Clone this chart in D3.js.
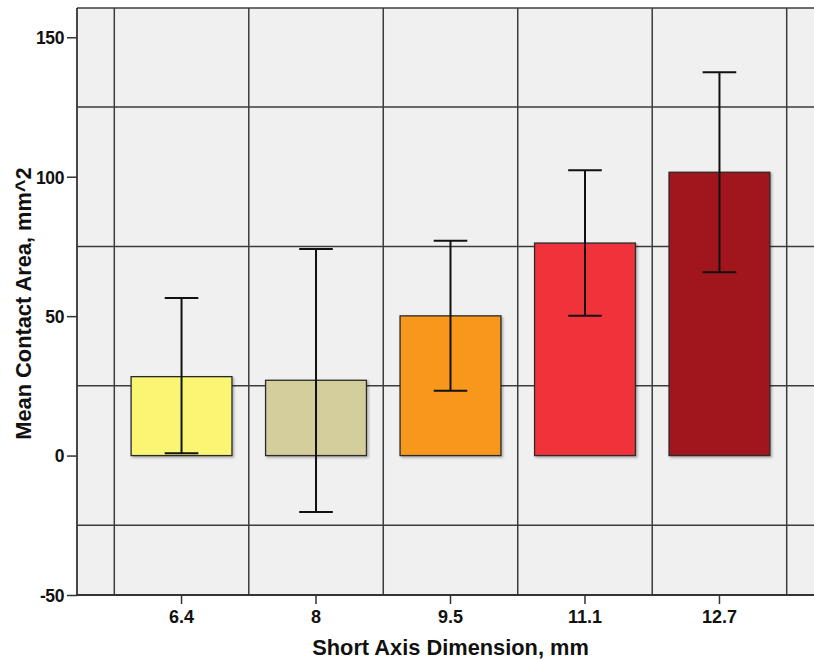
<!DOCTYPE html>
<html>
<head>
<meta charset="utf-8">
<script src="https://cdn.jsdelivr.net/npm/d3@7"></script>
<style>
  html, body { margin: 0; padding: 0; background: #ffffff; }
  svg { display: block; }
  text { font-family: "Liberation Sans", Arial, sans-serif; font-weight: bold; fill: #111; }
</style>
</head>
<body>
<svg id="chart" width="814" height="660"></svg>
<script>
// Short axis dimension groups (mm)
const categories = ["6.4", "8", "9.5", "11.1", "12.7"];
// Mean contact area per group (mm^2)
const means = [28.3, 27.0, 50.1, 76.2, 101.6];
// Error bar ends (mm^2)
const lower = [0.8, -20.2, 23.2, 50.1, 65.7];
const upper = [56.5, 74.1, 77.0, 102.3, 137.5];
const barColors = ["#FAF573", "#D3CE9B", "#F7981E", "#F0333B", "#A0161A"];
const yTicks = [-50, 0, 50, 100, 150];
const yGrid = [-25, 25, 75, 125];

const svg = d3.select("#chart");

// plot frame
const frame = { left: 77, top: 8, bottom: 595, right: 824 };
const pad = 37.3;

const y = d3.scaleLinear()
  .domain([-50, 160.5])
  .range([frame.bottom, frame.top]);

const x = d3.scaleBand()
  .domain(categories)
  .range([frame.left + pad, frame.right - pad])
  .paddingInner(0)
  .paddingOuter(0);

const bw = x.bandwidth();
const barW = bw * 0.75;
const capW = bw * 0.25;

const data = categories.map((c, i) => ({
  cat: c, mean: means[i], lo: lower[i], hi: upper[i], color: barColors[i]
}));

const defs = svg.append("defs");
const clip = defs.append("clipPath").attr("id", "plotClip");
clip.append("rect")
  .attr("x", frame.left).attr("y", frame.top)
  .attr("width", frame.right - frame.left)
  .attr("height", frame.bottom - frame.top);

const shadow = defs.append("filter").attr("id", "barShadow")
  .attr("x", "-10%").attr("y", "-10%").attr("width", "130%").attr("height", "130%");
shadow.append("feDropShadow")
  .attr("dx", 1.5).attr("dy", 1.5).attr("stdDeviation", 0.8)
  .attr("flood-color", "#000").attr("flood-opacity", 0.3);

const plot = svg.append("g").attr("clip-path", "url(#plotClip)");

// background
plot.append("rect")
  .attr("x", frame.left).attr("y", frame.top)
  .attr("width", frame.right - frame.left)
  .attr("height", frame.bottom - frame.top)
  .attr("fill", "#F0F0F0");

// horizontal grid lines
plot.selectAll("line.hgrid").data(yGrid).enter().append("line")
  .attr("class", "hgrid")
  .attr("x1", frame.left).attr("x2", frame.right)
  .attr("y1", d => y(d)).attr("y2", d => y(d))
  .attr("stroke", "#3c3c3c").attr("stroke-width", 1.5);

// vertical grid lines on category boundaries
const edges = categories.map(c => x(c)).concat([x(categories[categories.length - 1]) + bw]);
plot.selectAll("line.vgrid").data(edges).enter().append("line")
  .attr("class", "vgrid")
  .attr("x1", d => d).attr("x2", d => d)
  .attr("y1", frame.top).attr("y2", frame.bottom)
  .attr("stroke", "#3c3c3c").attr("stroke-width", 1.5);

// bars
plot.selectAll("rect.bar").data(data).enter().append("rect")
  .attr("class", "bar")
  .attr("x", d => x(d.cat) + (bw - barW) / 2)
  .attr("width", barW)
  .attr("y", d => y(Math.max(0, d.mean)))
  .attr("height", d => Math.abs(y(d.mean) - y(0)))
  .attr("fill", d => d.color)
  .attr("stroke", "#2a2a2a")
  .attr("stroke-width", 1.3)
  .attr("filter", "url(#barShadow)");

// error bars
const eb = plot.selectAll("g.err").data(data).enter().append("g").attr("class", "err");
eb.append("line")
  .attr("x1", d => x(d.cat) + bw / 2).attr("x2", d => x(d.cat) + bw / 2)
  .attr("y1", d => y(d.lo)).attr("y2", d => y(d.hi))
  .attr("stroke", "#111").attr("stroke-width", 2);
eb.append("line")
  .attr("x1", d => x(d.cat) + bw / 2 - capW / 2).attr("x2", d => x(d.cat) + bw / 2 + capW / 2)
  .attr("y1", d => y(d.hi)).attr("y2", d => y(d.hi))
  .attr("stroke", "#111").attr("stroke-width", 2);
eb.append("line")
  .attr("x1", d => x(d.cat) + bw / 2 - capW / 2).attr("x2", d => x(d.cat) + bw / 2 + capW / 2)
  .attr("y1", d => y(d.lo)).attr("y2", d => y(d.lo))
  .attr("stroke", "#111").attr("stroke-width", 2);

// top frame line
svg.append("line")
  .attr("x1", frame.left).attr("x2", frame.right)
  .attr("y1", frame.top).attr("y2", frame.top)
  .attr("stroke", "#3c3c3c").attr("stroke-width", 1.5);

// y axis (plain hyphen for negative values)
const yAxis = svg.append("g")
  .attr("transform", `translate(${frame.left},0)`)
  .call(d3.axisLeft(y).tickValues(yTicks).tickFormat(d => String(d)).tickSize(10).tickPadding(3));
yAxis.select(".domain").attr("stroke", "#333").attr("stroke-width", 1.8)
  .attr("d", `M0,${frame.top}V${frame.bottom}`);
yAxis.selectAll(".tick line").attr("stroke", "#333").attr("stroke-width", 1.5);
yAxis.selectAll(".tick text")
  .attr("font-size", 17.5).attr("fill", "#111")
  .attr("font-family", "Liberation Sans, Arial, sans-serif")
  .attr("font-weight", "bold")
  .attr("letter-spacing", -0.4)
  .attr("dy", "0.36em");

// x axis
const xAxis = svg.append("g")
  .attr("transform", `translate(0,${frame.bottom})`)
  .call(d3.axisBottom(x).tickSize(9).tickPadding(6));
xAxis.select(".domain").attr("stroke", "#333").attr("stroke-width", 1.8)
  .attr("d", `M${frame.left},0H${frame.right}`);
xAxis.selectAll(".tick line").attr("stroke", "#333").attr("stroke-width", 1.5);
xAxis.selectAll(".tick text")
  .attr("font-size", 18).attr("fill", "#111")
  .attr("font-family", "Liberation Sans, Arial, sans-serif")
  .attr("font-weight", "bold");

// axis titles
svg.append("text")
  .attr("x", (frame.left + frame.right) / 2)
  .attr("y", 655)
  .attr("text-anchor", "middle")
  .attr("font-size", 21.8)
  .text("Short Axis Dimension, mm");

svg.append("text")
  .attr("transform", `translate(31,${(frame.top + frame.bottom) / 2 + 2}) rotate(-90)`)
  .attr("text-anchor", "middle")
  .attr("font-size", 21.8)
  .text("Mean Contact Area, mm^2");
</script>
</body>
</html>
